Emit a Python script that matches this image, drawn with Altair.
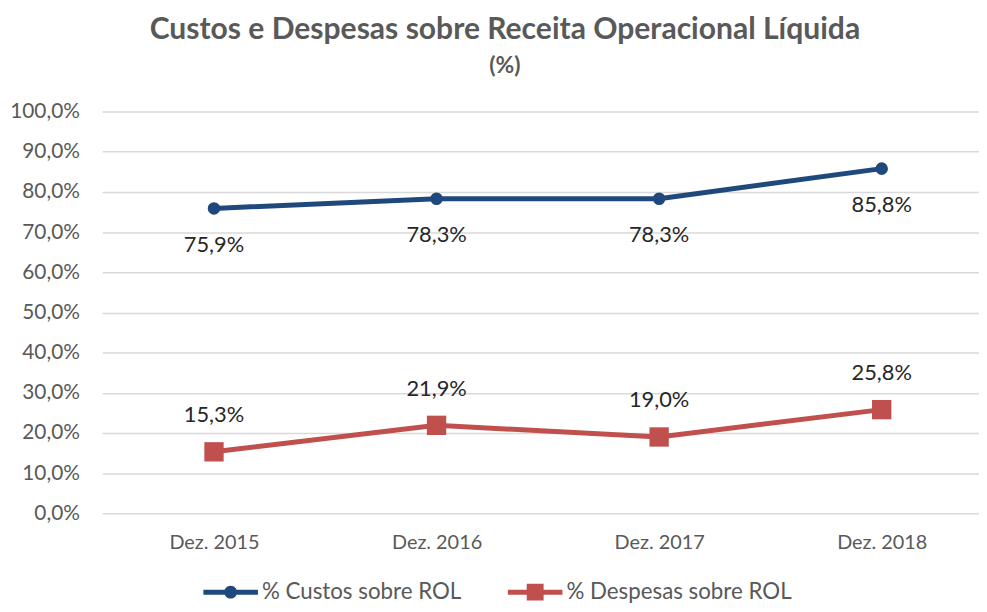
import altair as alt
import pandas as pd

# ---- data ----
categorias = ["Dez. 2015", "Dez. 2016", "Dez. 2017", "Dez. 2018"]
serie_nomes = ["% Custos sobre ROL", "% Despesas sobre ROL"]
custos = [75.9, 78.3, 78.3, 85.8]
despesas = [15.3, 21.9, 19.0, 25.8]
y_ticks = [0, 10, 20, 30, 40, 50, 60, 70, 80, 90, 100]

cores = ["#1F497D", "#C0504D"]
FONT = "Lato"
GRAY = "#595959"

rows = []
for nome, vals in zip(serie_nomes, [custos, despesas]):
    for c, v in zip(categorias, vals):
        rows.append({"periodo": c, "serie": nome, "valor": v,
                     "rotulo": f"{v:.1f}".replace(".", ",") + "%"})
df = pd.DataFrame(rows)

P1 = "M-1,-0.091H1V0.091H-1Z M-0.236,0A0.236,0.236 0 1,1 0.236,0A0.236,0.236 0 1,1 -0.236,0Z"
P2 = "M-1,-0.091H1V0.091H-1Z M-0.31,-0.31H0.31V0.31H-0.31Z"

legend = alt.Legend(
    title=None, orient="none", direction="horizontal",
    legendX=102, legendY=457,
    symbolSize=3025, symbolStrokeWidth=0, symbolOpacity=1,
    labelFont=FONT, labelFontSize=22.5, labelColor=GRAY, labelOffset=4,
    labelLimit=400, columnPadding=46,
)

color_scale = alt.Scale(domain=serie_nomes, range=cores)
shape_scale = alt.Scale(domain=serie_nomes, range=[P1, P2])
color_enc = alt.Color("serie:N", scale=color_scale, legend=legend)

base = alt.Chart(df).encode(
    x=alt.X("periodo:N", sort=categorias,
            scale=alt.Scale(type="point", padding=0.4697, align=0.5346),
            axis=alt.Axis(title=None, labelAngle=0, domain=False, ticks=False,
                          labelPadding=19, labelFontSize=20, labelColor=GRAY,
                          labelFont=FONT, grid=False)),
    y=alt.Y("valor:Q", scale=alt.Scale(domain=[0, 100], nice=False),
            axis=alt.Axis(title=None, values=y_ticks,
                          labelExpr="replace(format(datum.value, '.1f'), '.', ',') + '%'",
                          domain=False, ticks=False, labelPadding=23,
                          labelFontSize=21, labelColor=GRAY, labelFont=FONT,
                          gridColor="#D9D9D9", gridWidth=1.5)),
)

# legend-only layer (no data rows pass the filter; entries come from the scale domain)
leg = base.transform_filter("datum.valor < 0").mark_point(
    filled=True, opacity=1, strokeWidth=0).encode(
    color=color_enc,
    shape=alt.Shape("serie:N", scale=shape_scale, legend=legend))

line = base.mark_line(strokeWidth=5).encode(color=color_enc)

pts_c = base.transform_filter(alt.datum.serie == serie_nomes[0]).mark_point(
    shape="circle", filled=True, size=160, opacity=1).encode(color=color_enc)
pts_d = base.transform_filter(alt.datum.serie == serie_nomes[1]).mark_point(
    shape="square", filled=True, size=380, opacity=1).encode(color=color_enc)

txt_c = base.transform_filter(alt.datum.serie == serie_nomes[0]).mark_text(
    dy=37, font=FONT, fontSize=22, color="#262626").encode(text="rotulo:N")
txt_d = base.transform_filter(alt.datum.serie == serie_nomes[1]).mark_text(
    dy=-37, font=FONT, fontSize=22, color="#262626").encode(text="rotulo:N")

chart = alt.layer(leg, line, pts_c, pts_d, txt_c, txt_d).properties(
    width=884, height=405,
    title=alt.TitleParams(
        text="Custos e Despesas sobre Receita Operacional Líquida",
        subtitle="(%)", anchor="middle", dx=-36, offset=23,
        font=FONT, fontSize=30.3, fontWeight="bold", color=GRAY,
        subtitleFont=FONT, subtitleFontSize=23, subtitleFontWeight="bold",
        subtitleColor=GRAY, subtitlePadding=10),
    autosize=alt.AutoSizeParams(type="none"),
    padding={"left": 95, "top": 102, "right": 0, "bottom": 89},
).configure_view(stroke=None)

chart.save("out.html", embed_options={"renderer": "svg", "actions": False})
